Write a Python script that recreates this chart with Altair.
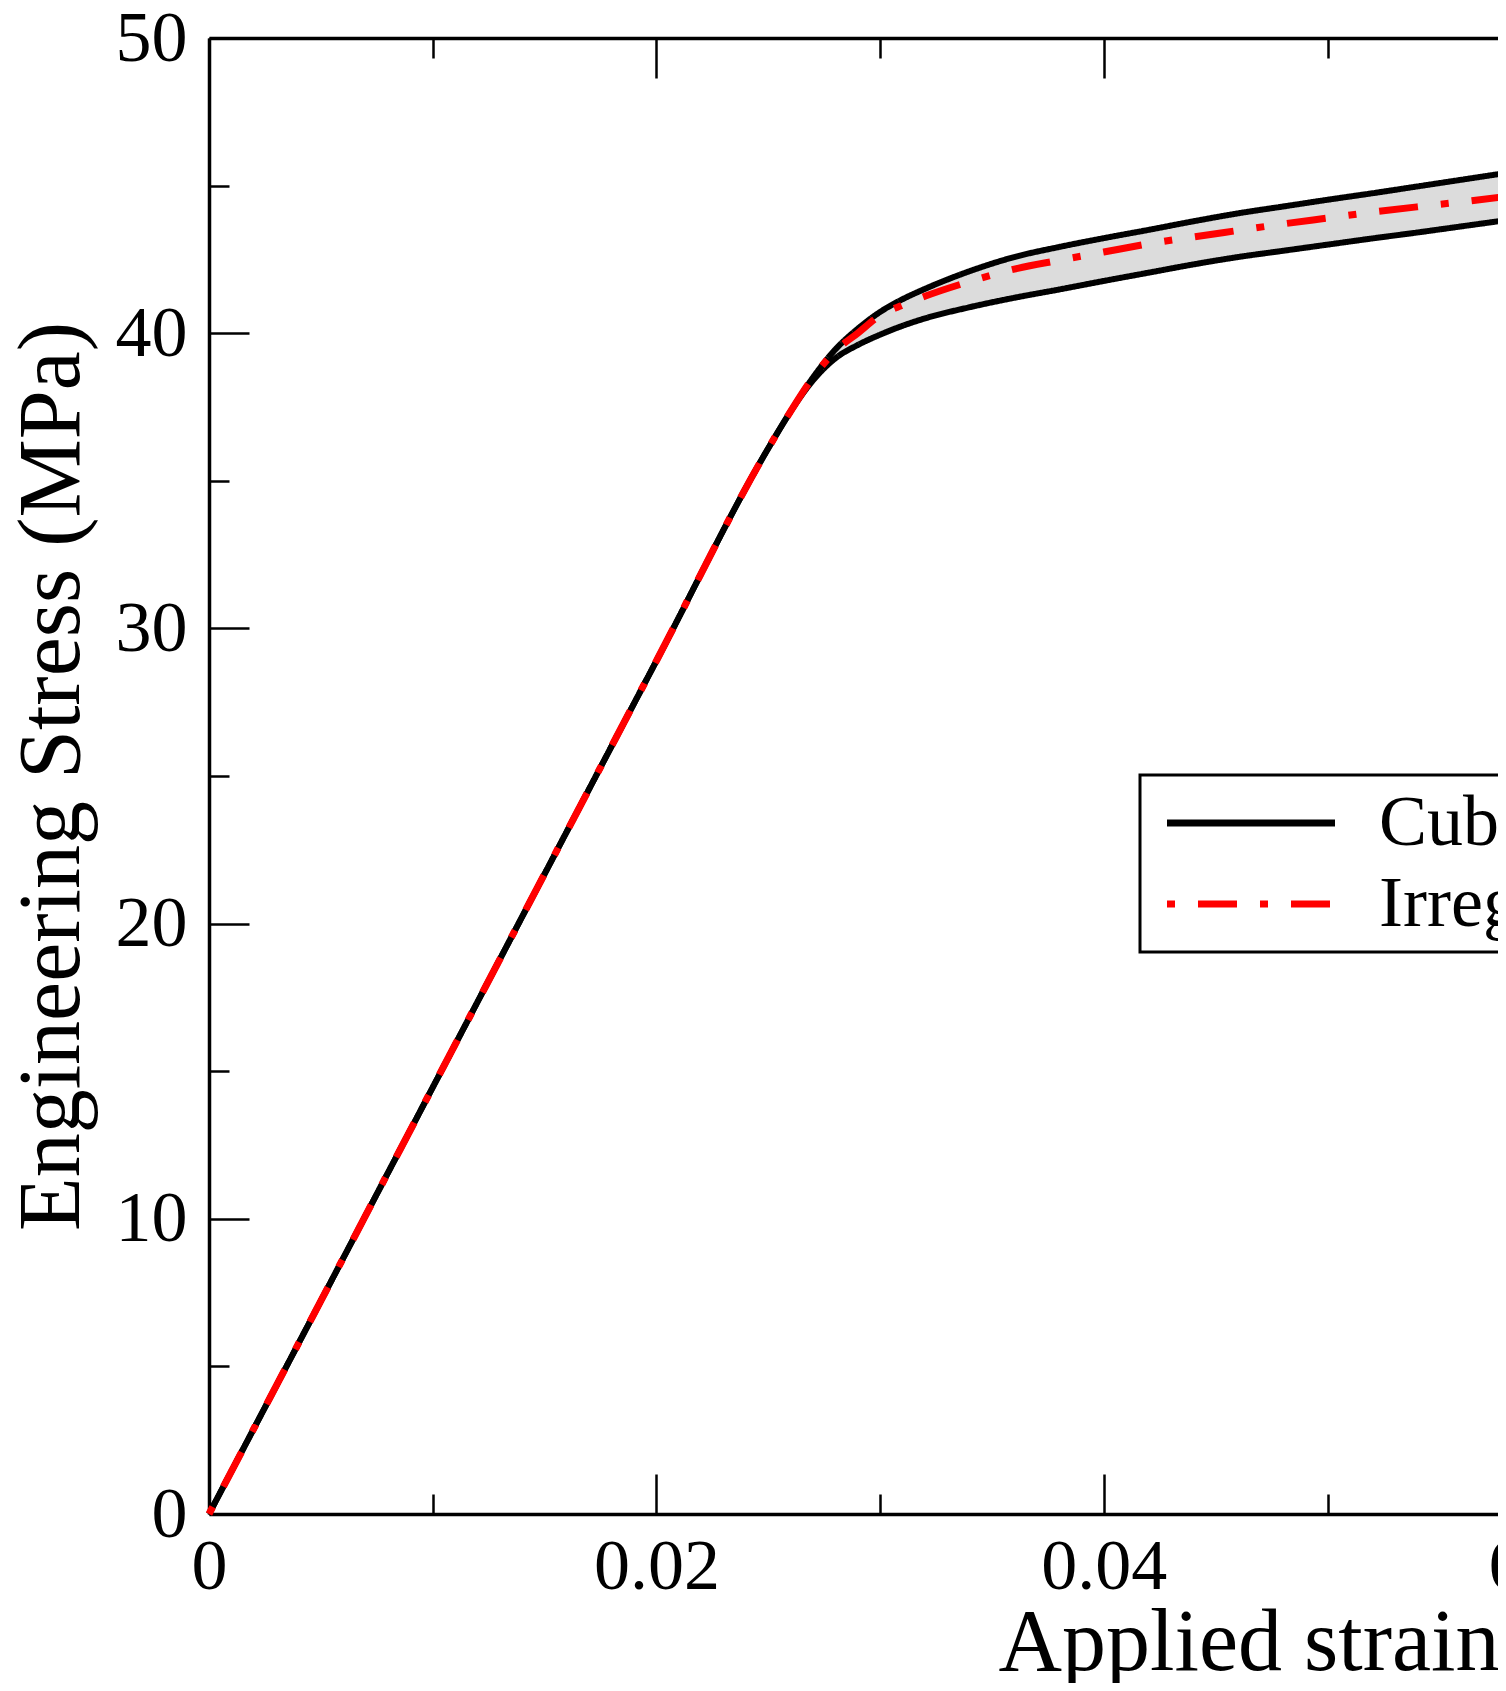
import altair as alt
import pandas as pd

# ---- data ----
STRAIN = [0.0, 0.005, 0.010, 0.015, 0.020, 0.025, 0.026, 0.027, 0.028, 0.029,
          0.030, 0.031, 0.032, 0.034, 0.036, 0.038, 0.040, 0.042, 0.044, 0.046,
          0.048, 0.050, 0.052, 0.054, 0.056, 0.058]
CUBIC_UPPER = [0.0, 7.22, 14.45, 21.68, 28.9, 36.1, 37.35, 38.5, 39.45, 40.15,
               40.72, 41.15, 41.5, 42.1, 42.58, 42.92, 43.22, 43.5, 43.79, 44.06,
               44.29, 44.52, 44.74, 44.97, 45.2, 45.43]
CUBIC_LOWER = [0.0, 7.22, 14.45, 21.68, 28.9, 36.1, 37.35, 38.4, 39.15, 39.6,
               39.95, 40.25, 40.5, 40.88, 41.2, 41.48, 41.77, 42.05, 42.33, 42.58,
               42.79, 43.0, 43.21, 43.41, 43.62, 43.83]
IRREGULAR = [0.0, 7.22, 14.45, 21.68, 28.9, 36.1, 37.35, 38.5, 39.4, 40.0,
             40.6, 40.95, 41.25, 41.75, 42.17, 42.47, 42.75, 43.03, 43.26, 43.48,
             43.7, 43.9, 44.1, 44.28, 44.45, 44.63]

SERIES = ["Cubic", "Irregular"]
X_TICKS = [0.0, 0.01, 0.02, 0.03, 0.04, 0.05, 0.06, 0.07, 0.08, 0.09, 0.10]
Y_TICKS = [0, 5, 10, 15, 20, 25, 30, 35, 40, 45, 50]

FONT = "Liberation Serif"

band_df = pd.DataFrame({"strain": STRAIN, "upper": CUBIC_UPPER, "lower": CUBIC_LOWER})
cubic_df = pd.concat([
    pd.DataFrame({"strain": STRAIN, "stress": CUBIC_UPPER, "bound": "upper", "mesh": "Cubic"}),
    pd.DataFrame({"strain": STRAIN, "stress": CUBIC_LOWER, "bound": "lower", "mesh": "Cubic"}),
])
irr_df = pd.DataFrame({"strain": STRAIN, "stress": IRREGULAR, "bound": "mid", "mesh": "Irregular"})

x_scale = alt.Scale(domain=[0, 0.1], nice=False)
y_scale = alt.Scale(domain=[0, 50], nice=False)

major_x = "abs(datum.value*50 - round(datum.value*50)) < 0.001"
major_y = "datum.value % 10 == 0"

axis_common = dict(domainColor="black", domainWidth=3.5, tickColor="black",
                   tickWidth=2.5, grid=False)

x_bottom = alt.Axis(
    orient="bottom", values=X_TICKS, format="~g",
    labelExpr=f"{major_x} ? datum.label : ''",
    tickSize=alt.ExprRef(expr=f"{major_x} ? -40 : -20"),
    labelPadding=57, labelFontSize=72, labelFont=FONT, labelColor="black",
    labelFlush=False, labelOverlap=False,
    title="Applied strain", titleFont=FONT, titleFontSize=88,
    titleFontWeight="normal", titleColor="black",
    titleX=789, titleY=155, titleAlign="left", titleBaseline="alphabetic",
    **axis_common,
)
x_top = alt.Axis(
    orient="top", values=X_TICKS, labels=False, title=None,
    tickSize=alt.ExprRef(expr=f"{major_x} ? -40 : -20"),
    **axis_common,
)
y_left = alt.Axis(
    orient="left", values=Y_TICKS,
    labelExpr=f"{major_y} ? datum.label : ''",
    tickSize=alt.ExprRef(expr=f"{major_y} ? -40 : -20"),
    labelPadding=62, labelFontSize=72, labelFont=FONT, labelColor="black",
    labelFlush=False, labelOverlap=False,
    title="Engineering Stress (MPa)", titleFont=FONT, titleFontSize=88,
    titleFontWeight="normal", titleColor="black",
    titleX=-131, titleY=738, titleAngle=270, titleAlign="center",
    titleBaseline="alphabetic",
    **axis_common,
)

legend = alt.Legend(
    title=None, orient="none", legendX=931, legendY=737,
    symbolType="M-5,0H5", symbolSize=1129, symbolStrokeWidth=7, symbolOffset=63,
    labelFont=FONT, labelFontSize=72, labelColor="black", labelOffset=92,
    labelLimit=2000, padding=12, rowPadding=9, strokeColor="black",
)
color_enc = alt.Color("mesh:N", scale=alt.Scale(domain=SERIES, range=["black", "#ff0000"]),
                      legend=legend)
dash_enc = alt.StrokeDash("mesh:N", scale=alt.Scale(domain=SERIES, range=[[1, 0], [8, 23, 39, 23]]),
                          legend=legend)

band = alt.Chart(band_df).mark_area(color="#dcdcdc", interpolate="monotone").encode(
    x=alt.X("strain:Q", scale=x_scale, axis=x_bottom),
    y=alt.Y("lower:Q", scale=y_scale, axis=y_left),
    y2="upper:Q",
)

cubic = alt.Chart(cubic_df).mark_line(strokeWidth=6, interpolate="monotone", strokeCap="butt").encode(
    x=alt.X("strain:Q", scale=x_scale, axis=x_top),
    y=alt.Y("stress:Q", scale=y_scale, axis=None),
    color=color_enc,
    strokeDash=dash_enc,
    detail="bound:N",
)

irregular = alt.Chart(irr_df).mark_line(strokeWidth=7, interpolate="monotone", strokeCap="butt").encode(
    x=alt.X("strain:Q", scale=x_scale, axis=None),
    y=alt.Y("stress:Q", scale=y_scale, axis=None),
    color=color_enc,
    strokeDash=dash_enc,
)

chart = alt.layer(band, cubic, irregular).resolve_axis(
    x="independent", y="independent"
).properties(
    width=2237, height=1476,
    padding={"left": 201, "top": 30, "right": -948, "bottom": 169},
    autosize=alt.AutoSizeParams(type="none"),
).configure_view(stroke=None).configure_legend(strokeWidth=3)

chart.save("out.html", embed_options={"renderer": "svg", "actions": False})
